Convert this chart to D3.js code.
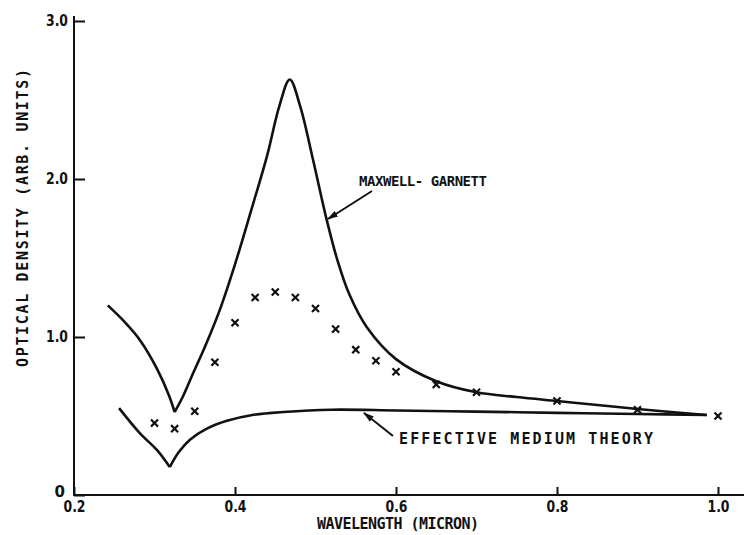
<!DOCTYPE html>
<html>
<head>
<meta charset="utf-8">
<script src="https://cdnjs.cloudflare.com/ajax/libs/d3/7.8.5/d3.min.js"></script>
<style>
  body { margin: 0; background: #fff; }
  svg text { font-family: "DejaVu Sans Mono", monospace; font-weight: bold; fill: #111; }
  svg .tick text { font-family: "DejaVu Sans", sans-serif; }
</style>
</head>
<body>
<script>
// Maxwell-Garnett curve
var mgX = [0.242, 0.262, 0.282, 0.303, 0.318, 0.325, 0.335, 0.347, 0.362, 0.381, 0.40, 0.42, 0.44, 0.455, 0.468, 0.481, 0.497, 0.514, 0.527, 0.542, 0.564, 0.60, 0.65, 0.70, 0.75, 0.80, 0.85, 0.90, 0.986];
var mgY = [1.20, 1.10, 0.98, 0.80, 0.63, 0.525, 0.62, 0.76, 0.93, 1.17, 1.46, 1.80, 2.15, 2.46, 2.63, 2.46, 2.12, 1.74, 1.49, 1.27, 1.06, 0.86, 0.72, 0.65, 0.62, 0.595, 0.57, 0.544, 0.506];

// effective medium theory curve
var emtX = [0.256, 0.282, 0.303, 0.319, 0.33, 0.344, 0.365, 0.39, 0.42, 0.46, 0.52, 0.60, 0.70, 0.80, 0.90, 0.986];
var emtY = [0.55, 0.39, 0.285, 0.177, 0.27, 0.35, 0.42, 0.47, 0.505, 0.525, 0.54, 0.535, 0.528, 0.52, 0.513, 0.506];

// measured points (x marks)
var dataX = [0.30, 0.325, 0.35, 0.375, 0.40, 0.425, 0.45, 0.475, 0.50, 0.525, 0.55, 0.575, 0.60, 0.65, 0.70, 0.80, 0.90, 1.00];
var dataY = [0.455, 0.42, 0.53, 0.84, 1.09, 1.25, 1.285, 1.25, 1.18, 1.05, 0.92, 0.85, 0.78, 0.70, 0.65, 0.595, 0.54, 0.50];

var xTicks = [0.2, 0.4, 0.6, 0.8, 1.0];
var xTickLabels = ["0.2", "0.4", "0.6", "0.8", "1.0"];
var yTicks = [0, 1, 2, 3];
var yTickLabels = ["0", "1.0", "2.0", "3.0"];

var w = 744, h = 535;
var svg = d3.select("body").append("svg").attr("width", w).attr("height", h);

var x = d3.scaleLinear().domain([0.2, 1.0]).range([74, 718]);
var y = d3.scaleLinear().domain([0, 3]).range([495, 21]);

var xAxis = d3.axisBottom(x).tickValues(xTicks)
  .tickFormat(function(d, i) { return xTickLabels[i]; })
  .tickSize(-8).tickSizeOuter(0).tickPadding(6);
var yAxis = d3.axisLeft(y).tickValues(yTicks)
  .tickFormat(function(d, i) { return yTickLabels[i]; })
  .tickSize(-11).tickSizeOuter(0).tickPadding(6);

var gx = svg.append("g").attr("transform", "translate(0,495)").call(xAxis);
var gy = svg.append("g").attr("transform", "translate(74,0)").call(yAxis);
[gx, gy].forEach(function(g) {
  g.select(".domain").remove();
  g.selectAll(".tick line").attr("stroke", "#111").attr("stroke-width", 2);
  g.selectAll(".tick text").style("font-size", "15px").attr("fill", "#111")
    .filter(function(d, i) { return i > 0 || g === gx; })
    .attr("textLength", 22).attr("lengthAdjust", "spacingAndGlyphs");
});
gy.selectAll(".tick text").filter(function(d) { return d === 0; }).attr("dx", "-3").attr("dy", "0.1em");

// axis lines, running a bit past the last ticks
svg.append("line").attr("x1", 74).attr("x2", 744).attr("y1", 495).attr("y2", 495)
  .attr("stroke", "#111").attr("stroke-width", 2);
svg.append("line").attr("x1", 74).attr("x2", 74).attr("y1", 16).attr("y2", 496)
  .attr("stroke", "#111").attr("stroke-width", 2);

// axis titles
svg.append("text").attr("x", 317).attr("y", 529)
  .attr("textLength", 162).attr("lengthAdjust", "spacing")
  .style("font-size", "15px").text("WAVELENGTH (MICRON)");
svg.append("text").attr("transform", "translate(28,367) rotate(-90)")
  .attr("textLength", 298).attr("lengthAdjust", "spacing")
  .style("font-size", "15px").text("OPTICAL  DENSITY (ARB. UNITS)");

// curves: split at the minimum so the dip stays a sharp V
var line = d3.line().x(function(d) { return x(d[0]); }).y(function(d) { return y(d[1]); })
  .curve(d3.curveCatmullRom.alpha(0.5));

function drawCurve(xs, ys) {
  var pts = xs.map(function(v, i) { return [v, ys[i]]; });
  var m = d3.minIndex(ys.slice(0, 8));
  [pts.slice(0, m + 1), pts.slice(m)].forEach(function(part) {
    svg.append("path").attr("d", line(part)).attr("fill", "none")
      .attr("stroke", "#111").attr("stroke-width", 2.6).attr("stroke-linejoin", "round");
  });
}
drawCurve(mgX, mgY);
drawCurve(emtX, emtY);

// x marks
var sym = d3.symbol().type(d3.symbolX).size(34);
svg.selectAll("path.pt").data(dataX).enter().append("path")
  .attr("class", "pt")
  .attr("transform", function(d, i) { return "translate(" + x(d) + "," + y(dataY[i]) + ")"; })
  .attr("d", sym).attr("fill", "none").attr("stroke", "#111").attr("stroke-width", 2.2);

// labels with arrows
svg.append("defs").append("marker").attr("id", "arr")
  .attr("viewBox", "0 0 10 6").attr("refX", 9).attr("refY", 3)
  .attr("markerWidth", 5.5).attr("markerHeight", 3.3).attr("orient", "auto")
  .attr("markerUnits", "strokeWidth")
  .append("path").attr("d", "M0,0L10,3L0,6z").attr("fill", "#111");

svg.append("line").attr("x1", 372).attr("y1", 191).attr("x2", 328).attr("y2", 219)
  .attr("stroke", "#111").attr("stroke-width", 2).attr("marker-end", "url(#arr)");
svg.append("text").attr("x", 359).attr("y", 186)
  .attr("textLength", 128).attr("lengthAdjust", "spacing")
  .style("font-size", "14px").text("MAXWELL- GARNETT");

svg.append("line").attr("x1", 393).attr("y1", 436).attr("x2", 364).attr("y2", 413)
  .attr("stroke", "#111").attr("stroke-width", 2).attr("marker-end", "url(#arr)");
svg.append("text").attr("x", 399).attr("y", 444)
  .attr("textLength", 254).attr("lengthAdjust", "spacing")
  .style("font-size", "15px").text("EFFECTIVE MEDIUM THEORY");
</script>
</body>
</html>
